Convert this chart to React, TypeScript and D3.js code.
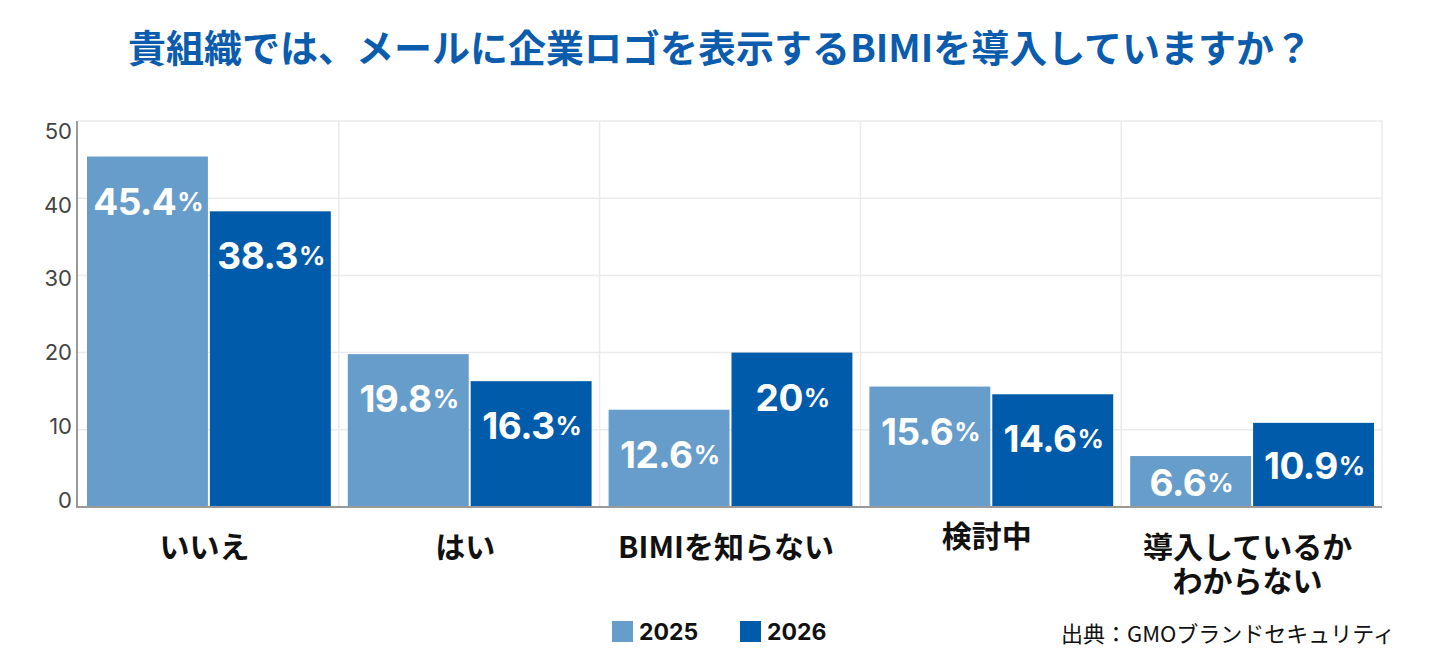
import { useEffect, useRef } from "react";
import * as d3 from "d3";

const categories = ["いいえ", "はい", "BIMIを知らない", "検討中", "導入しているか\nわからない"];
const years = ["2025", "2026"];
const values2025 = [45.4, 19.8, 12.6, 15.6, 6.6];
const values2026 = [38.3, 16.3, 20, 14.6, 10.9];
const yTicks = [0, 10, 20, 30, 40, 50];

const TITLE = "貴組織では、メールに企業ロゴを表示するBIMIを導入していますか？";
const SOURCE = "出典：GMOブランドセキュリティ";

const colors = ["#679dcb", "#015bab"];
const JP = "'Noto Sans CJK JP', 'Noto Sans', sans-serif";
const NUM = "Inter, 'Noto Sans CJK JP', sans-serif";

export default function App() {
  const ref = useRef<SVGSVGElement>(null);

  useEffect(() => {
    const W = 1440;
    const H = 671;
    const margin = { top: 121, right: 58, bottom: 164, left: 78 };
    const width = W - margin.left - margin.right;
    const height = H - margin.top - margin.bottom;

    const root = d3.select(ref.current);
    root.selectAll("*").remove();

    root
      .append("text")
      .attr("x", W / 2)
      .attr("y", 45)
      .attr("text-anchor", "middle")
      .attr("dominant-baseline", "central")
      .style("font-family", JP)
      .style("font-weight", 700)
      .style("font-size", "38px")
      .style("fill", "#0b5cad")
      .text(TITLE);

    const svg = root.append("g").attr("transform", `translate(${margin.left},${margin.top})`);

    const x0 = d3.scaleBand().domain(categories).range([0, width]).paddingInner(0).paddingOuter(0);
    const x1 = d3
      .scaleBand()
      .domain(years)
      .range([9, x0.bandwidth() - 8])
      .paddingInner(0.016);
    const y = d3.scaleLinear().domain([0, 50]).range([height, 0]);
    // tick labels sit on a slightly compressed scale in the reference
    const yLab = d3.scaleLinear().domain([0, 50]).range([height - 7.5, 10]);

    // grid
    svg
      .selectAll("line.hgrid")
      .data(yTicks.filter((t) => t > 0))
      .enter()
      .append("line")
      .attr("x1", 0)
      .attr("x2", width)
      .attr("y1", (d) => y(d))
      .attr("y2", (d) => y(d))
      .style("stroke", "#ebebeb")
      .style("stroke-width", 1.5);

    svg
      .selectAll("line.vgrid")
      .data(categories.slice(1).concat(["__end"]))
      .enter()
      .append("line")
      .attr("x1", (d, i) => (i < categories.length - 1 ? x0(d)! : width))
      .attr("x2", (d, i) => (i < categories.length - 1 ? x0(d)! : width))
      .attr("y1", 0)
      .attr("y2", height)
      .style("stroke", "#ebebeb")
      .style("stroke-width", 1.5);

    // bars
    const series = [values2025, values2026];
    const cells = categories.flatMap((c, i) =>
      years.map((yr, j) => ({ cat: c, year: yr, j, value: series[j][i] }))
    );

    const g = svg
      .selectAll("g.cell")
      .data(cells)
      .enter()
      .append("g")
      .attr("transform", (d) => `translate(${x0(d.cat)! + x1(d.year)!},0)`);

    g.append("rect")
      .attr("x", 0)
      .attr("y", (d) => y(d.value))
      .attr("width", x1.bandwidth())
      .attr("height", (d) => height - y(d.value))
      .style("fill", (d) => colors[d.j]);

    const lab = g
      .append("text")
      .attr("x", x1.bandwidth() / 2 + 1)
      .attr("y", (d) => Math.min(y(d.value) + 44, (y(d.value) + height) / 2))
      .attr("text-anchor", "middle")
      .attr("dominant-baseline", "central")
      .style("font-family", NUM)
      .style("font-weight", 700)
      .style("fill", "#fff");
    lab.append("tspan").style("font-size", "37px").attr("letter-spacing", "-0.5").text((d) => String(d.value));
    lab.append("tspan").style("font-size", "26px").attr("dx", 1).text("%");

    // axes lines
    svg
      .append("line")
      .attr("x1", -1)
      .attr("x2", -1)
      .attr("y1", 0)
      .attr("y2", height)
      .style("stroke", "#9a9a9a")
      .style("stroke-width", 2);
    svg
      .append("line")
      .attr("x1", -2)
      .attr("x2", width)
      .attr("y1", height)
      .attr("y2", height)
      .style("stroke", "#9a9a9a")
      .style("stroke-width", 2);

    svg
      .selectAll("text.ytick")
      .data(yTicks)
      .enter()
      .append("text")
      .attr("x", -6)
      .attr("y", (d) => yLab(d))
      .attr("text-anchor", "end")
      .attr("dominant-baseline", "central")
      .style("font-family", NUM)
      .style("font-size", "22px")
      .style("fill", "#444")
      .text((d) => d);

    // category labels
    const cl = svg
      .selectAll("text.cat")
      .data(categories)
      .enter()
      .append("text")
      .attr("x", (d) => x0(d)! + x0.bandwidth() / 2 - 4)
      .attr("y", (d) => height + 38 + (d === "検討中" ? -11 : 0))
      .attr("text-anchor", "middle")
      .attr("dominant-baseline", "central")
      .style("font-family", JP)
      .style("font-weight", 700)
      .style("font-size", "30px")
      .style("fill", "#111");
    cl.selectAll("tspan")
      .data((d) => d.split("\n"))
      .enter()
      .append("tspan")
      .attr("x", function () {
        return (this.parentNode as SVGTextElement).getAttribute("x");
      })
      .attr("dy", (d, i) => (i === 0 ? 0 : 34))
      .text((d) => d);

    // legend
    const legend = root.append("g").attr("transform", "translate(612,621)");
    const lx = [0, 128];
    years.forEach((yr, i) => {
      legend
        .append("rect")
        .attr("x", lx[i])
        .attr("y", 0)
        .attr("width", 21)
        .attr("height", 21)
        .style("fill", colors[i]);
      legend
        .append("text")
        .attr("x", lx[i] + 27)
        .attr("y", 11)
        .attr("dominant-baseline", "central")
        .style("font-family", NUM)
        .style("font-weight", 700)
        .style("font-size", "23px")
        .style("fill", "#111")
        .text(yr);
    });

    root
      .append("text")
      .attr("x", 1395)
      .attr("y", 632)
      .attr("text-anchor", "end")
      .attr("dominant-baseline", "central")
      .style("font-family", JP)
      .style("font-size", "22px")
      .style("fill", "#111")
      .text(SOURCE);
  }, []);

  return (
    <svg
      ref={ref}
      width={1440}
      height={671}
      style={{ position: "absolute", left: 0, top: 0, background: "#fff" }}
    />
  );
}
